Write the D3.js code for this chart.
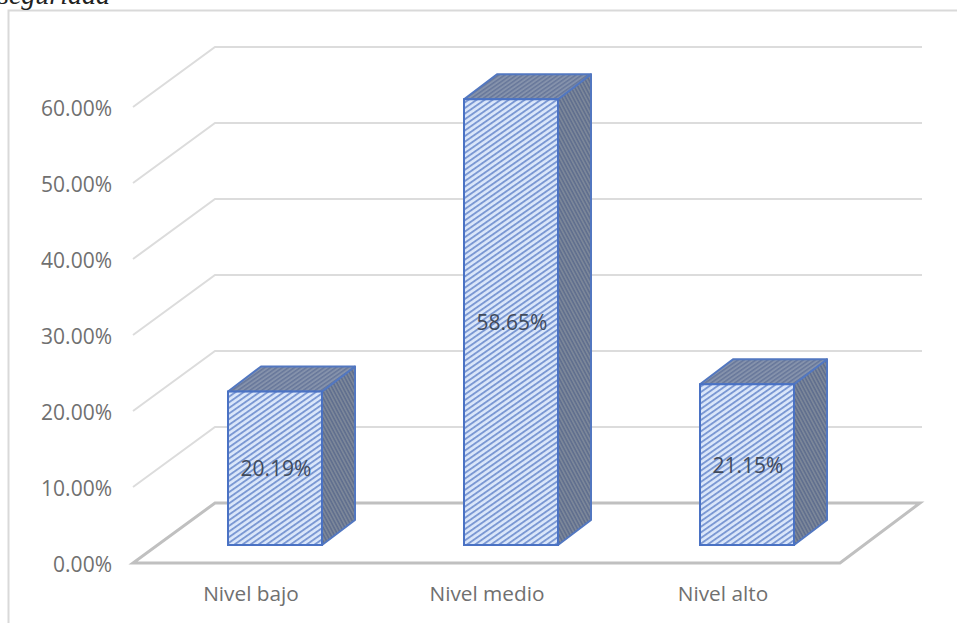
<!DOCTYPE html>
<html><head><meta charset="utf-8">
<script src="https://cdn.jsdelivr.net/npm/d3@7"></script>
<style>html,body{margin:0;padding:0;background:#fff;overflow:hidden}svg{display:block}</style>
</head><body><div id="c"></div>
<script>
const categories = ["Nivel bajo","Nivel medio","Nivel alto"];
const values = [20.19,58.65,21.15];
const tickValues = [0,10,20,30,40,50,60];
const W=957,H=623;
const svg=d3.select("#c").append("svg").attr("width",W).attr("height",H);
const defs=svg.append("defs");
function pat(id,bg,fg,size,w,a){
  const p=defs.append("pattern").attr("id",id).attr("patternUnits","userSpaceOnUse")
    .attr("width",size).attr("height",size).attr("patternTransform",`rotate(${a})`);
  p.append("rect").attr("width",size).attr("height",size).attr("fill",bg);
  p.append("rect").attr("width",size).attr("height",w).attr("fill",fg);
}
pat("pf","#dbe7fa","#7b98d3",4.6,1.9,-35);
pat("pt","#8592ab","#67779a",3.4,1.5,-35);
pat("ps","#7c8799","#5f6e8e",3.2,1.5,62);

svg.append("path").attr("d","M8.5,623V10.5H957").attr("fill","none").attr("stroke","#d9d9d9").attr("stroke-width",2);
svg.append("text").attr("x",-2).attr("y",4).attr("font-family","Liberation Serif").attr("font-style","italic").attr("font-size",28).attr("fill","#222").text("seguridad");

const depth={dx:82,dy:-60}, barDepth={dx:33,dy:-25}, inset={dx:0,dy:-18};
const y=d3.scaleLinear().domain([0,60]).range([563,107]);
const x=d3.scaleBand().domain(categories).range([157,865]).paddingInner(0.6).paddingOuter(0.3);
const g=svg.append("g");
tickValues.slice(1).forEach(t=>{
  g.append("path").attr("d",`M133,${y(t)}L${133+depth.dx},${y(t)+depth.dy}H922`).attr("fill","none").attr("stroke","#dcdcdc").attr("stroke-width",2);
});
g.append("path").attr("d",`M${133},${y(0)}H840L920,${y(0)+depth.dy}H${133+depth.dx}Z`).attr("fill","#fff").attr("stroke","#c0c0c0").attr("stroke-width",3);
const bars=svg.append("g").selectAll("g").data(values).join("g");
const bw=94;
const bx=(d,i)=>x(categories[i])+(x.bandwidth()-bw)/2;
const base=y(0)+inset.dy;
const barTop=d=>base-(y(0)-y(d));
bars.append("path").attr("d",(d,i)=>{const X=bx(d,i)+bw;return `M${X},${barTop(d)}l${barDepth.dx},${barDepth.dy}V${base+barDepth.dy}L${X},${base}Z`})
  .attr("fill","url(#ps)").attr("stroke","#5277c0").attr("stroke-width",2).attr("stroke-linejoin","round");
bars.append("path").attr("d",(d,i)=>{const X=bx(d,i);return `M${X},${barTop(d)}l${barDepth.dx},${barDepth.dy}h${bw}l${-barDepth.dx},${-barDepth.dy}Z`})
  .attr("fill","url(#pt)").attr("stroke","#5277c0").attr("stroke-width",2).attr("stroke-linejoin","round");
bars.append("rect").attr("x",(d,i)=>bx(d,i)).attr("y",d=>barTop(d)).attr("width",bw).attr("height",d=>base-barTop(d))
  .attr("fill","url(#pf)").attr("stroke","#4a72c4").attr("stroke-width",2);
bars.append("text").attr("x",(d,i)=>bx(d,i)+bw/2+1).attr("y",d=>(barTop(d)+base)/2+8)
  .attr("text-anchor","middle").attr("font-family","Open Sans").attr("font-size",21).attr("fill","#404a5c")
  .text(d=>d.toFixed(2)+"%");
svg.append("g").selectAll("text").data(tickValues).join("text").attr("x",112).attr("y",t=>y(t)+9)
  .attr("text-anchor","end").attr("font-family","Open Sans").attr("font-size",21).attr("fill","#707070").text(t=>t.toFixed(2)+"%");
svg.append("g").selectAll("text").data(categories).join("text").attr("x",(d,i)=>bx(0,i)+bw/2-24).attr("y",601)
  .attr("text-anchor","middle").attr("font-family","Open Sans").attr("font-size",20.8).attr("fill","#707070").text(d=>d);
</script></body></html>
